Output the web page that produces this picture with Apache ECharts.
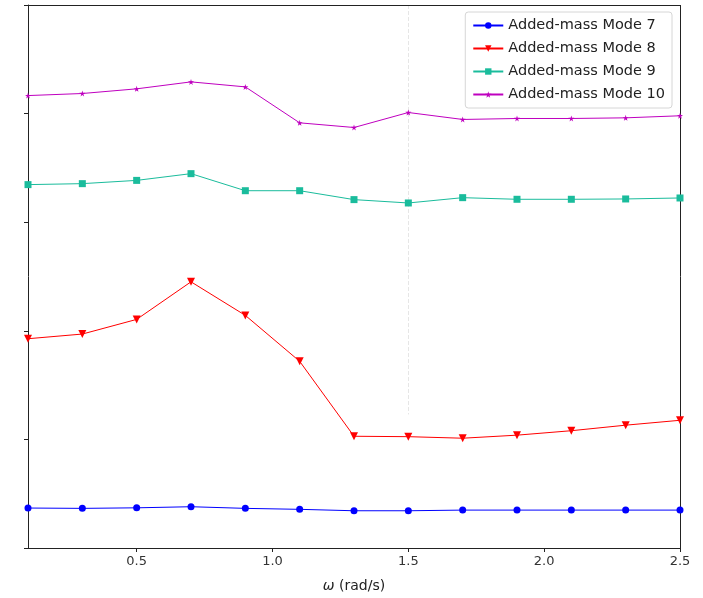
<!DOCTYPE html>
<html>
<head>
<meta charset="utf-8">
<script src="https://cdn.jsdelivr.net/npm/echarts@6/dist/echarts.min.js"></script>
<style>
  html, body { margin: 0; padding: 0; background: #fff; }
  #chart { width: 703px; height: 598px; }
</style>
</head>
<body>
<div id="chart"></div>
<script>
// omega values (rad/s)
const omega = [0.1, 0.3, 0.5, 0.7, 0.9, 1.1, 1.3, 1.5, 1.7, 1.9, 2.1, 2.3, 2.5];
const xTicks = [0.5, 1.0, 1.5, 2.0, 2.5];

// added-mass values (arbitrary units, y labels are cropped)
const mode7 = [0.368, 0.365, 0.370, 0.380, 0.365, 0.356, 0.343, 0.343, 0.349, 0.349, 0.349, 0.349, 0.349];
const mode8 = [1.927, 1.970, 2.105, 2.451, 2.142, 1.719, 1.029, 1.025, 1.011, 1.039, 1.080, 1.131, 1.176];
const mode9 = [3.346, 3.355, 3.385, 3.447, 3.290, 3.290, 3.208, 3.177, 3.226, 3.211, 3.211, 3.214, 3.223];
const mode10 = [4.166, 4.185, 4.228, 4.292, 4.246, 3.915, 3.872, 4.010, 3.946, 3.955, 3.955, 3.961, 3.980];

const starPath = 'path://M50,0 L61,35 L98,35 L68,57 L79,91 L50,70 L21,91 L32,57 L2,35 L39,35 Z';

function pairs(ys) {
    return omega.map((x, i) => [x, ys[i]]);
}

function makeSeries(name, ys, color, symbol, size) {
    return {
        name: name,
        type: 'line',
        data: pairs(ys),
        symbol: symbol,
        symbolSize: size,
        showAllSymbol: true,
        lineStyle: { color: color, width: 1 },
        itemStyle: { color: color },
        emphasis: { disabled: true },
        z: 5
    };
}

const chart = echarts.init(document.getElementById('chart'));

const series = [
    makeSeries('Added-mass Mode 7', mode7, '#0000ff', 'circle', 7),
    makeSeries('Added-mass Mode 8', mode8, '#ff0000', 'triangle', 8),
    makeSeries('Added-mass Mode 9', mode9, '#1abc9c', 'rect', 7),
    makeSeries('Added-mass Mode 10', mode10, '#bf00bf', starPath, 6)
];
// triangle pointing down
series[1].symbolRotate = 180;

const option = {
    animation: false,
    backgroundColor: '#fff',
    grid: { left: 28, right: 23, top: 5, bottom: 49 },
    legend: {
        right: 31,
        top: 12,
        orient: 'vertical',
        itemWidth: 30,
        itemHeight: 8,
        itemGap: 8,
        padding: [6, 7, 6, 7],
        backgroundColor: '#fff',
        borderColor: '#d6d6d6',
        borderWidth: 1,
        borderRadius: 3,
        textStyle: { fontFamily: 'DejaVu Sans', fontSize: 14.5, color: '#222' },
        data: series.map(s => s.name)
    },
    xAxis: {
        type: 'value',
        min: 0.1,
        max: 2.5,
        name: '{w|ω} (rad/s)',
        nameLocation: 'middle',
        nameGap: 31,
        nameTextStyle: {
            fontFamily: 'DejaVu Sans', fontSize: 14, color: '#222',
            rich: { w: { fontFamily: 'DejaVu Sans', fontStyle: 'italic', fontSize: 14, color: '#222' } }
        },
        axisLine: { show: true, onZero: false, lineStyle: { color: '#222', width: 1 } },
        axisTick: { show: true, length: 4, lineStyle: { color: '#222' }, customValues: xTicks },
        axisLabel: {
            fontFamily: 'DejaVu Sans', fontSize: 13, color: '#333', margin: 7,
            customValues: xTicks,
            formatter: v => v.toFixed(1)
        },
        splitLine: { show: false }
    },
    yAxis: {
        type: 'value',
        min: 0,
        max: 5,
        interval: 1,
        axisLine: { show: true, onZero: false, lineStyle: { color: '#222', width: 1 } },
        axisTick: { show: true, length: 4, lineStyle: { color: '#222' } },
        axisLabel: { show: false },
        splitLine: { show: false }
    },
    series: [{
        // faint dashed guide at 1.5, kept behind the data
        type: 'line',
        data: [],
        z: 0,
        markLine: {
            silent: true,
            z: 0,
            symbol: 'none',
            label: { show: false },
            lineStyle: { color: '#e6e6e6', type: 'dashed', width: 1 },
            data: [[{ coord: [1.5, 5] }, { coord: [1.5, 1.23] }]]
        }
    }].concat(series).concat([{
        // closing box: top and right frame
        type: 'line',
        data: [],
        z: 2,
        markLine: {
            silent: true,
            symbol: 'none',
            label: { show: false },
            lineStyle: { color: '#222', type: 'solid', width: 1 },
            data: [{ yAxis: 5 }, { xAxis: 2.5 }]
        }
    }])
};

chart.setOption(option);
</script>
</body>
</html>
